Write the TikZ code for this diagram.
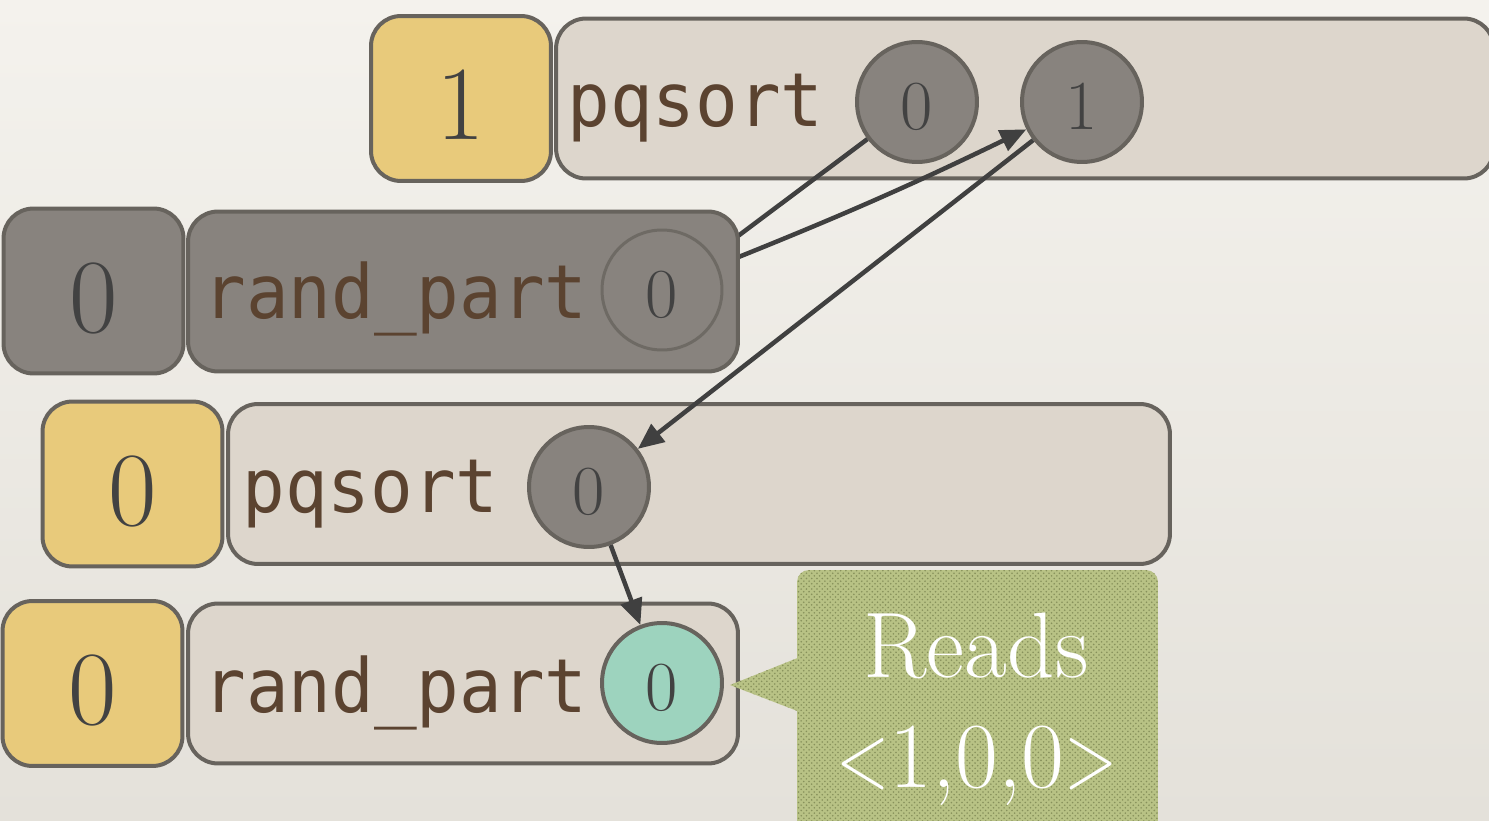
\documentclass[tikz,border=0pt]{standalone}
\usepackage{fontspec}
\newfontfamily\codefont[FakeStretch=0.95]{DejaVu Sans Mono}
\usetikzlibrary{arrows.meta,patterns,calc}

\definecolor{bgtop}{HTML}{F4F2ED}
\definecolor{bgbot}{HTML}{E4E1DA}
\definecolor{edge}{HTML}{67635D}
\definecolor{softedge}{HTML}{6E6A64}
\definecolor{gold}{HTML}{E8CA7B}
\definecolor{slab}{HTML}{DDD6CC}
\definecolor{stone}{HTML}{88837E}
\definecolor{ink}{HTML}{5B4330}
\definecolor{digit}{HTML}{424242}
\definecolor{mint}{HTML}{9DD3BE}
\definecolor{wire}{HTML}{404040}
\definecolor{moss}{HTML}{B8C285}
\definecolor{mossdot}{HTML}{87915B}

\pgfdeclarelayer{front}
\pgfsetlayers{main,front}

% digits sit a little below the centre of their box
\newcommand{\lowdigit}[2]{\raisebox{-#1}[\height][0pt]{#2}}
% slimmer angle brackets for the vector
\newcommand{\slimlt}{\scalebox{0.75}[1]{<}}
\newcommand{\slimgt}{\scalebox{0.75}[1]{>}}

\tikzset{
  framebox/.style={draw=edge, line width=0.08cm, rounded corners=0.6cm, inner sep=0pt},
  flagbox/.style={framebox, fill=gold, minimum width=3.6cm, minimum height=3.3cm,
                  font=\fontsize{60}{62}\selectfont, text=digit},
  callbox/.style={framebox, fill=slab, minimum height=3.2cm},
  slot/.style={circle, draw=edge, line width=0.08cm, fill=stone, minimum size=2.4cm,
               inner sep=0pt, font=\fontsize{40}{42}\selectfont, text=digit},
  fname/.style={anchor=base west, inner sep=0pt, text=ink,
                font=\codefont\fontsize{42.5}{44}\selectfont},
  link/.style={draw=wire, line width=0.09cm},
  tip/.style={-{Triangle[length=0.52cm,width=0.44cm]}},
  patch/.style={fill=moss, postaction={pattern=crosshatch dots, pattern color=mossdot}},
  notetext/.style={anchor=base, inner sep=0pt, text=white, font=\fontsize{53}{60}\selectfont}
}

\begin{document}
\begin{tikzpicture}[x=0.02cm, y=-0.02cm]
  % canvas
  \fill[top color=bgtop, bottom color=bgbot] (0,0) rectangle (1489,821);
  \useasboundingbox (0,0) rectangle (1489,821);

  % frame 1: pqsort
  \node[flagbox] (f1) at (461,98.5) {\lowdigit{0.13cm}{1}};
  \node[callbox, minimum width=18.76cm] (c1) at (1025,98.5) {};
  \node[fname] (n1) at (567,127) {pqsort};
  \node[slot] (a0) at (917,102) {\lowdigit{0.08cm}{0}};
  \node[slot] (a1) at (1082,102) {\lowdigit{0.08cm}{1}};

  % frame 2: rand_part (inactive)
  \begin{pgfonlayer}{front}
    \node[flagbox, fill=stone] (f2) at (93.5,291) {\lowdigit{0.13cm}{0}};
    \node[callbox, fill=stone, minimum width=11.0cm] (c2) at (463,291.5) {};
    \node[fname] (n2) at (203,318) {rand\_part};
    \node[slot, draw=softedge, line width=0.06cm] (b0) at (662,290) {\lowdigit{0.08cm}{0}};
  \end{pgfonlayer}

  % frame 3: pqsort
  \node[flagbox] (f3) at (132.5,484) {\lowdigit{0.13cm}{0}};
  \node[callbox, minimum width=18.84cm] (c3) at (699,484) {};
  \node[fname] (n3) at (242,512) {pqsort};
  \node[slot] (c0) at (589,487) {\lowdigit{0.08cm}{0}};

  % frame 4: rand_part (current)
  \node[flagbox] (f4) at (92.5,683.5) {\lowdigit{0.13cm}{0}};
  \node[callbox, minimum width=11.0cm] (c4) at (463,683.5) {};
  \node[fname] (n4) at (203,712) {rand\_part};
  \node[slot, fill=mint] (d0) at (662,683) {\lowdigit{0.08cm}{0}};

  % links between the frames
  \coordinate (b1) at ($(c2.north east)+(-20,40)$);
  \coordinate (b2) at ($(c2.north east)+(-20,55)$);
  \draw[link] (a0) -- (b1);
  \draw[link, tip] (b2) to[bend right=2] (a1);
  \draw[link, tip] (a1) -- (c0);
  \draw[link, tip] (c0) -- (d0);

  % callout
  \path[patch] (730,685) -- (800,657) -- (800,712) -- cycle;
  \node[patch, rounded corners=0.24cm, minimum width=7.22cm, minimum height=5.4cm,
        inner sep=0pt] (note) at (977.5,705) {};
  \node[notetext] (reads) at (976,677) {Reads};
  \node[notetext] (vec) at (977,787) {\slimlt1,0,0\slimgt};
\end{tikzpicture}
\end{document}
